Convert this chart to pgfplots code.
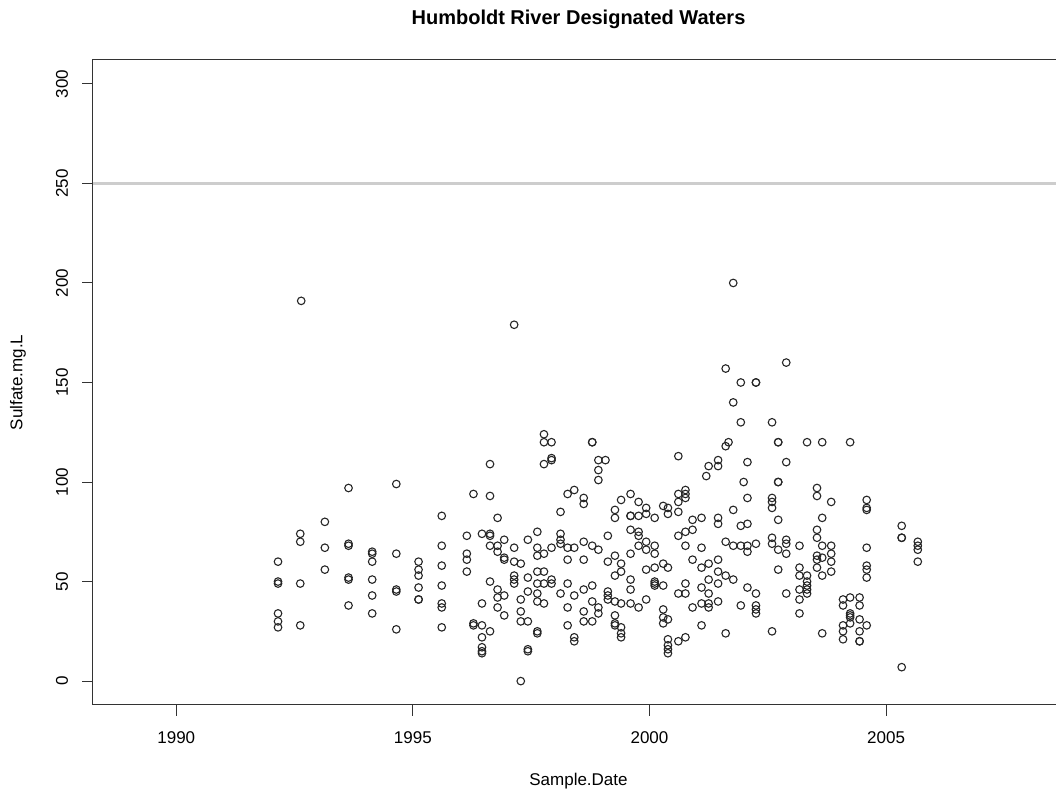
\documentclass[border=0pt]{standalone}
\usepackage{fontspec}
\setmainfont{Liberation Sans}
\usepackage{pgfplots}
\pgfplotsset{compat=1.18}
\begin{document}
\begin{tikzpicture}
\path[use as bounding box] (0,0) rectangle (528pt,395.5pt);
\begin{axis}[
  at={(46.5pt,43pt)}, anchor=south west,
  scale only axis, width=485.5pt, height=322.5pt,
  xmin=1988.24, xmax=2008.76, ymin=-12, ymax=312,
  xtick={1990,1995,2000,2005}, ytick={0,50,100,150,200,250,300},
  /pgf/number format/assume math mode=true,
  xticklabel={\pgfmathprintnumber[1000 sep={}]{\tick}},
  tick pos=left, tick align=outside, major tick length=5.5pt,
  tick style={black!80, line width=0.5pt},
  axis line style={line width=0.5pt, black!80},
  ticklabel style={font=\fontsize{8.5pt}{10pt}\selectfont},
  xticklabel style={yshift=-4.5pt},
  yticklabel style={xshift=-3.5pt, rotate=90, anchor=south},
  xlabel={Sample.Date}, ylabel={Sulfate.mg.L},
  label style={font=\fontsize{8.5pt}{10pt}\selectfont},
  xlabel style={at={(axis description cs:0.5,-0.1178)}, anchor=center},
  ylabel style={at={(axis description cs:-0.0772,0.5)}, anchor=center, rotate=0},
  title={Humboldt River Designated Waters},
  title style={font=\bfseries\fontsize{10pt}{12pt}\selectfont, at={(axis description cs:0.5,1.0450)}, anchor=center},
  clip=true,
]
\addplot[color={rgb,255:red,205;green,205;blue,205}, line width=1.3pt] coordinates {(1988.24,250) (2008.76,250)};
\addplot[only marks, mark=o, mark size=1.9pt, mark options={line width=0.55pt, draw=black!85}] coordinates {
(1992.15,60) (1992.15,50) (1992.15,49) (1992.15,34) (1992.15,30) (1992.15,27)
(1992.62,74) (1992.62,70) (1992.62,49) (1992.62,28) (1992.64,191)
(1993.14,80) (1993.14,67) (1993.14,56)
(1993.64,97) (1993.64,69) (1993.64,68) (1993.64,52) (1993.64,51) (1993.64,38)
(1994.14,65) (1994.14,64) (1994.14,60) (1994.14,51) (1994.14,43) (1994.14,34)
(1994.65,99) (1994.65,64) (1994.65,46) (1994.65,45) (1994.65,26)
(1995.12,60) (1995.12,56) (1995.12,53) (1995.12,47) (1995.12,41) (1995.12,41)
(1995.61,83) (1995.61,68) (1995.61,58) (1995.61,48) (1995.61,39) (1995.61,37) (1995.61,27)
(1996.14,73) (1996.14,64) (1996.14,61) (1996.14,55)
(1996.28,94) (1996.28,29) (1996.28,28)
(1996.46,74) (1996.46,39) (1996.46,28) (1996.46,22) (1996.46,17) (1996.46,15) (1996.46,14)
(1996.63,109) (1996.63,93) (1996.63,74) (1996.63,73) (1996.63,68) (1996.63,50) (1996.63,25)
(1996.79,82) (1996.79,68) (1996.79,65) (1996.79,46) (1996.79,42) (1996.79,37)
(1996.93,71) (1996.93,62) (1996.93,61) (1996.93,43) (1996.93,33)
(1997.14,179) (1997.14,67) (1997.14,60) (1997.14,53) (1997.14,51) (1997.14,49)
(1997.28,59) (1997.28,41) (1997.28,35) (1997.28,30) (1997.28,0)
(1997.43,71) (1997.43,52) (1997.43,45) (1997.43,30) (1997.43,16) (1997.43,15)
(1997.63,75) (1997.63,67) (1997.63,63) (1997.63,55) (1997.63,49) (1997.63,44) (1997.63,40) (1997.63,25) (1997.63,24)
(1997.77,124) (1997.77,120) (1997.77,109) (1997.77,64) (1997.77,55) (1997.77,49) (1997.77,39)
(1997.93,120) (1997.93,112) (1997.93,111) (1997.93,67) (1997.93,51) (1997.93,49)
(1998.12,85) (1998.12,74) (1998.12,71) (1998.12,69) (1998.12,44)
(1998.27,94) (1998.27,67) (1998.27,61) (1998.27,49) (1998.27,37) (1998.27,28)
(1998.41,96) (1998.41,67) (1998.41,43) (1998.41,22) (1998.41,20)
(1998.61,92) (1998.61,89) (1998.61,70) (1998.61,61) (1998.61,46) (1998.61,35) (1998.61,30)
(1998.79,120) (1998.79,120) (1998.79,68) (1998.79,48) (1998.79,40) (1998.79,30)
(1998.92,111) (1998.92,106) (1998.92,101) (1998.92,66) (1998.92,37) (1998.92,34)
(1999.07,111)
(1999.12,73) (1999.12,60) (1999.12,45) (1999.12,43) (1999.12,41)
(1999.27,86) (1999.27,82) (1999.27,63) (1999.27,53) (1999.27,40) (1999.27,33) (1999.27,29) (1999.27,28)
(1999.40,91) (1999.40,59) (1999.40,55) (1999.40,39) (1999.40,27) (1999.40,24) (1999.40,22)
(1999.60,94) (1999.60,83) (1999.60,83) (1999.60,76) (1999.60,64) (1999.60,51) (1999.60,46) (1999.60,39)
(1999.77,90) (1999.77,83) (1999.77,75) (1999.77,73) (1999.77,68) (1999.77,37)
(1999.93,87) (1999.93,84) (1999.93,70) (1999.93,66) (1999.93,56) (1999.93,41)
(2000.11,82) (2000.11,68) (2000.11,64) (2000.11,57) (2000.11,50) (2000.11,49) (2000.11,48)
(2000.29,88) (2000.29,59) (2000.29,48) (2000.29,36) (2000.29,32) (2000.29,29)
(2000.39,87) (2000.39,84) (2000.39,57) (2000.39,31) (2000.39,21) (2000.39,18) (2000.39,16) (2000.39,14)
(2000.61,113) (2000.61,94) (2000.61,90) (2000.61,85) (2000.61,73) (2000.61,44) (2000.61,20)
(2000.76,96) (2000.76,94) (2000.76,92) (2000.76,75) (2000.76,68) (2000.76,49) (2000.76,44) (2000.76,22)
(2000.91,81) (2000.91,76) (2000.91,61) (2000.91,37)
(2001.10,82) (2001.10,67) (2001.10,57) (2001.10,47) (2001.10,39) (2001.10,28)
(2001.20,103)
(2001.25,108) (2001.25,59) (2001.25,51) (2001.25,44) (2001.25,39) (2001.25,37)
(2001.45,111) (2001.45,108) (2001.45,82) (2001.45,79) (2001.45,61) (2001.45,55) (2001.45,49) (2001.45,40)
(2001.61,157) (2001.61,118) (2001.61,70) (2001.61,53) (2001.61,24)
(2001.67,120)
(2001.77,200) (2001.77,140) (2001.77,86) (2001.77,68) (2001.77,51)
(2001.93,150) (2001.93,130) (2001.93,78) (2001.93,68) (2001.93,38)
(2001.99,100)
(2002.07,110) (2002.07,92) (2002.07,79) (2002.07,68) (2002.07,65) (2002.07,47)
(2002.25,150) (2002.25,150) (2002.25,69) (2002.25,44) (2002.25,38) (2002.25,36) (2002.25,34)
(2002.59,130) (2002.59,92) (2002.59,90) (2002.59,87) (2002.59,72) (2002.59,69) (2002.59,25)
(2002.72,120) (2002.72,120) (2002.72,100) (2002.72,100) (2002.72,81) (2002.72,66) (2002.72,56)
(2002.89,160) (2002.89,110) (2002.89,71) (2002.89,69) (2002.89,64) (2002.89,44)
(2003.17,68) (2003.17,57) (2003.17,53) (2003.17,46) (2003.17,41) (2003.17,34)
(2003.33,120) (2003.33,53) (2003.33,50) (2003.33,48) (2003.33,46) (2003.33,44)
(2003.54,97) (2003.54,93) (2003.54,76) (2003.54,72) (2003.54,63) (2003.54,61) (2003.54,57)
(2003.65,120) (2003.65,82) (2003.65,68) (2003.65,62) (2003.65,53) (2003.65,24)
(2003.84,90) (2003.84,68) (2003.84,64) (2003.84,60) (2003.84,55)
(2004.09,41) (2004.09,38) (2004.09,28) (2004.09,25) (2004.09,21)
(2004.24,120) (2004.24,42) (2004.24,34) (2004.24,33) (2004.24,32) (2004.24,29)
(2004.44,42) (2004.44,38) (2004.44,31) (2004.44,25) (2004.44,20) (2004.44,20)
(2004.59,91) (2004.59,87) (2004.59,86) (2004.59,67) (2004.59,58) (2004.59,56) (2004.59,52) (2004.59,28)
(2005.33,78) (2005.33,72) (2005.33,72) (2005.33,7)
(2005.67,70) (2005.67,68) (2005.67,66) (2005.67,60)
};
\end{axis}
\end{tikzpicture}
\end{document}
